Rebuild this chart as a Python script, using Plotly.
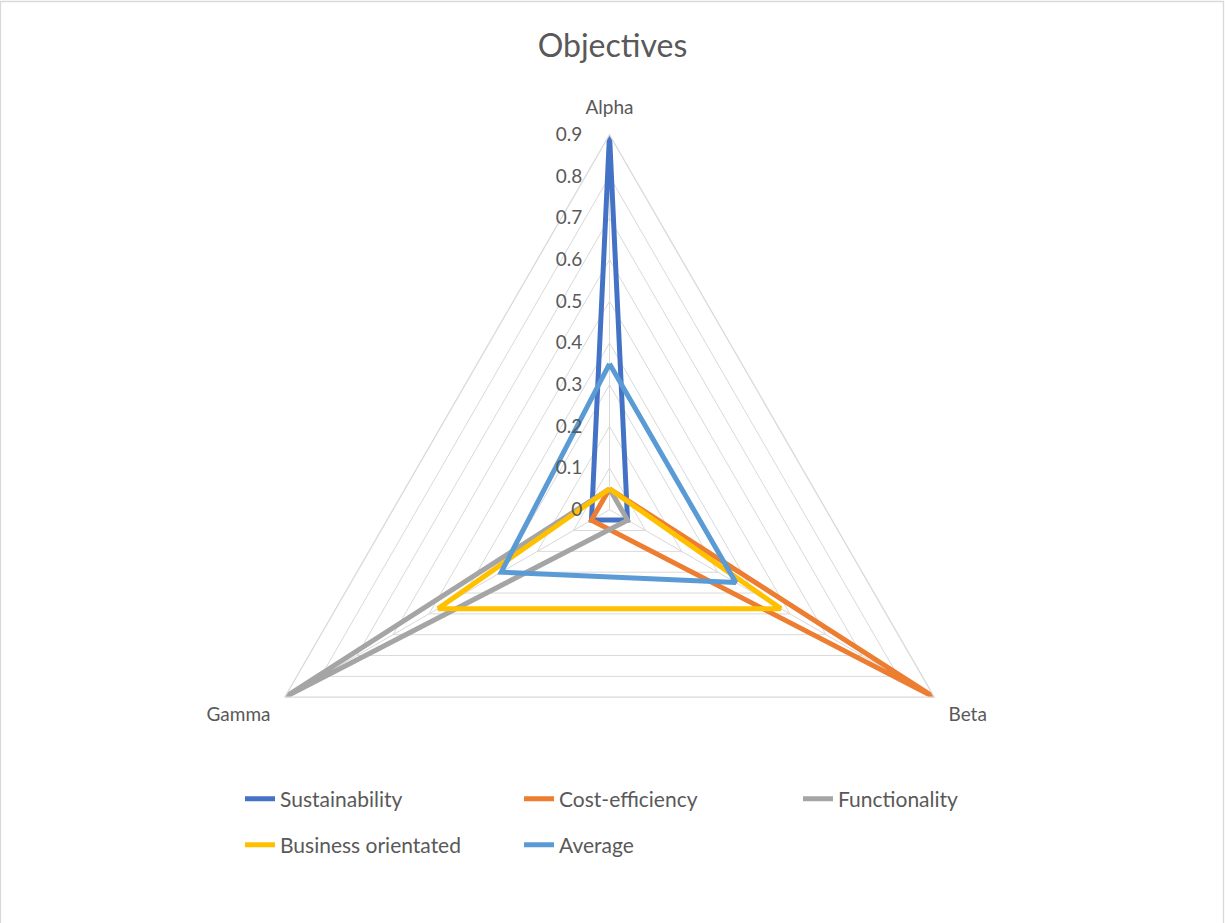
import plotly.graph_objects as go

# Objectives radar data
axes_labels = ["Alpha", "Beta", "Gamma"]
series_names = ["Sustainability", "Cost-efficiency", "Functionality",
                "Business orientated", "Average"]
sustainability = [0.9, 0.05, 0.05]
cost_efficiency = [0.05, 0.9, 0.05]
functionality = [0.05, 0.05, 0.9]
business_orientated = [0.05, 0.475, 0.475]
average = [0.35, 0.35, 0.3]
radial_ticks = [0, 0.1, 0.2, 0.3, 0.4, 0.5, 0.6, 0.7, 0.8, 0.9]

series_values = [sustainability, cost_efficiency, functionality,
                 business_orientated, average]
colors = ["#4472C4", "#ED7D31", "#A5A5A5", "#FFC000", "#5B9BD5"]
legend_ids = ["legend", "legend", "legend", "legend2", "legend2"]

FONT = "Lato"
TEXT = "#595959"
GRID = "#D9D9D9"

W, H = 1225, 923
cx, cy, R = 609.5, 509.7, 375.0

fig = go.Figure()
for name, vals, col, lg in zip(series_names, series_values, colors, legend_ids):
    fig.add_trace(go.Scatterpolar(
        r=vals + vals[:1],
        theta=axes_labels + axes_labels[:1],
        mode="lines",
        name=name,
        line=dict(color=col, width=5),
        legend=lg,
    ))

legend_common = dict(
    orientation="h",
    font=dict(family=FONT, size=21, color=TEXT),
    entrywidth=234,
    entrywidthmode="pixels",
    xanchor="left",
    yanchor="middle",
    bgcolor="rgba(0,0,0,0)",
    itemwidth=30,
)

fig.update_layout(
    width=W, height=H,
    margin=dict(l=0, r=0, t=0, b=0),
    paper_bgcolor="white",
    plot_bgcolor="white",
    title=dict(text="Objectives", x=0.5, xanchor="center",
               y=1 - 46 / H, yanchor="middle",
               font=dict(family=FONT, size=32, color=TEXT)),
    polar=dict(
        domain=dict(x=[(cx - R) / W, (cx + R) / W],
                    y=[1 - (cy + R) / H, 1 - (cy - R) / H]),
        gridshape="linear",
        bgcolor="rgba(0,0,0,0)",
        angularaxis=dict(
            rotation=90, direction="clockwise",
            showline=True, linecolor=GRID, linewidth=1.3,
            showgrid=True, gridcolor=GRID, gridwidth=1.3,
            ticks="outside", ticklen=12, tickcolor="rgba(0,0,0,0)",
            tickfont=dict(family=FONT, size=19, color=TEXT),
        ),
        radialaxis=dict(
            range=[0, 0.9], tickvals=radial_ticks,
            ticktext=[f"{v:g}" for v in radial_ticks],
            angle=90, tickangle=90, side="counterclockwise",
            showline=False, showgrid=True, gridcolor=GRID, gridwidth=1.3,
            ticks="outside", ticklen=20, tickcolor="rgba(0,0,0,0)",
            tickfont=dict(family=FONT, size=19, color=TEXT),
        ),
    ),
    legend=dict(x=240 / W, y=1 - 799 / H, **legend_common),
    legend2=dict(x=240 / W, y=1 - 845 / H, **legend_common),
    shapes=[dict(type="rect", xref="paper", yref="paper",
                 x0=0.5 / W, x1=1 - 1.5 / W, y0=-0.01, y1=1 - 1.5 / H,
                 line=dict(color="#D9D9D9", width=1.3), layer="below")],
)

fig.write_html("out.html")
